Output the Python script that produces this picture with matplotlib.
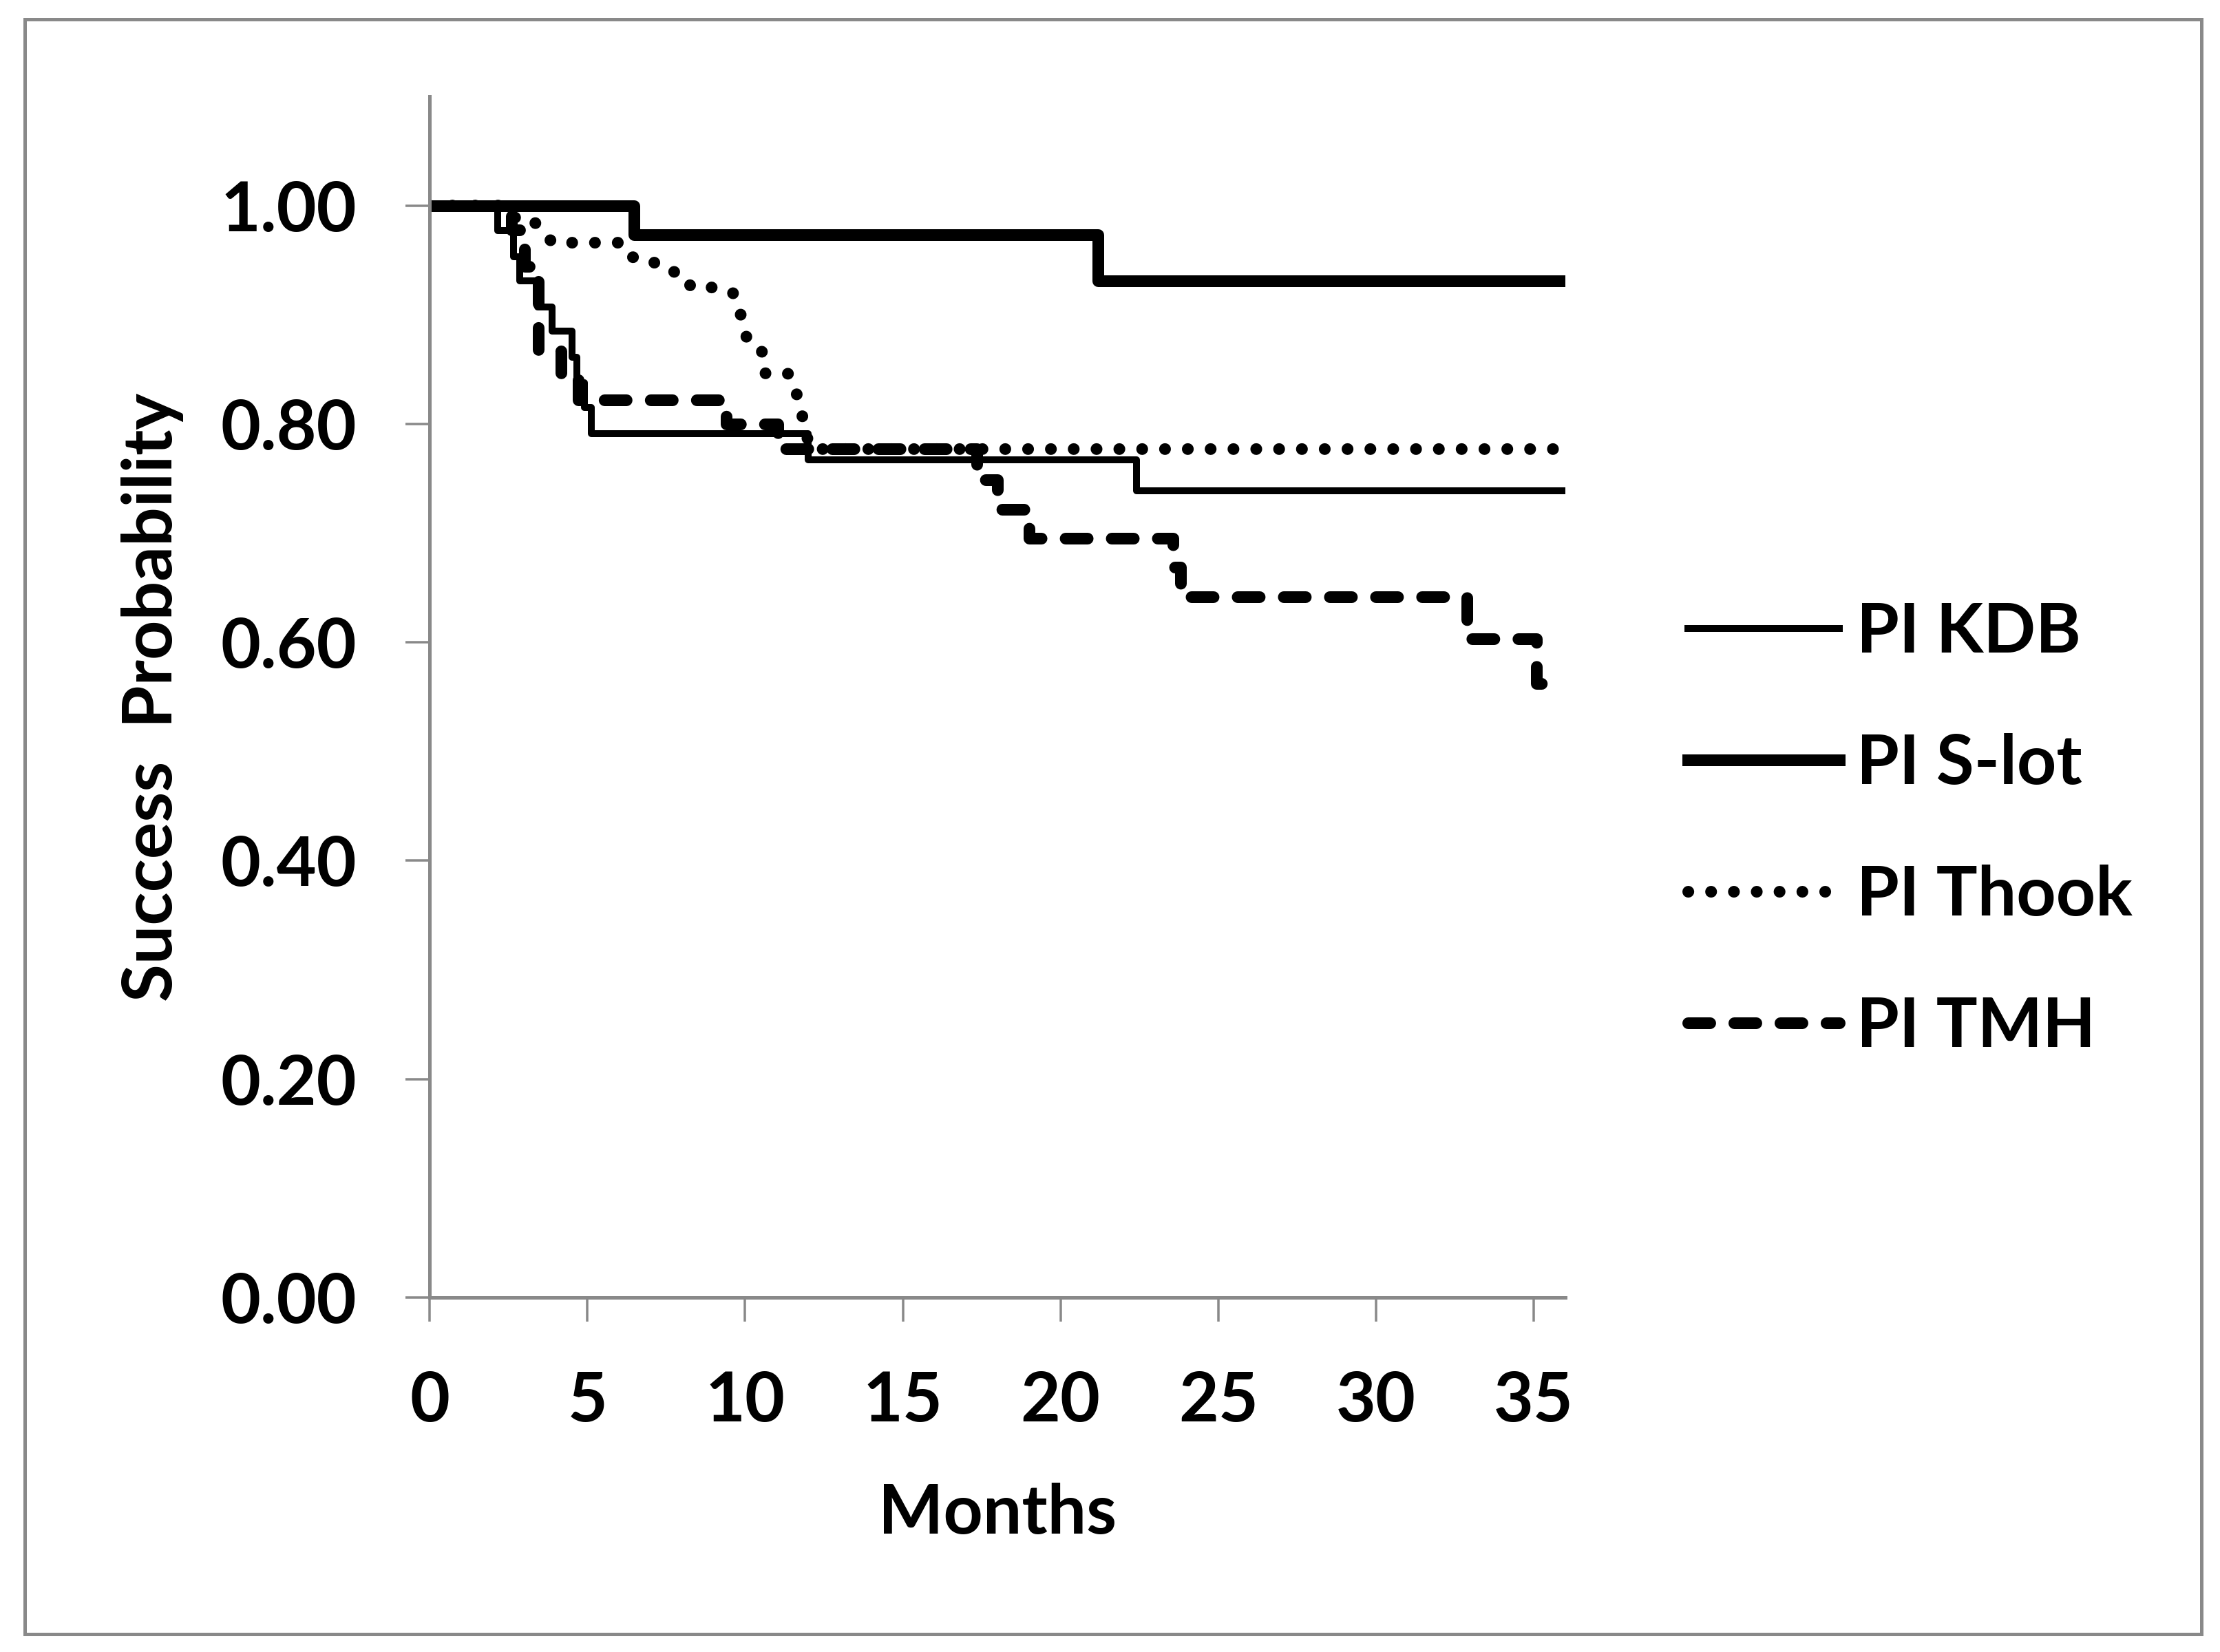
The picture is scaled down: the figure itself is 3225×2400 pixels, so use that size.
import matplotlib
matplotlib.use("Agg")
import matplotlib.pyplot as plt
from matplotlib.patches import Rectangle
from matplotlib.ticker import FormatStrFormatter

# ---- data ----
kdb_t = [0, 2.15, 2.66, 2.85, 3.42, 3.89, 4.51, 4.66, 4.90, 5.13, 12.0, 22.4, 36]
kdb_s = [1.0, 0.977, 0.953, 0.931, 0.907, 0.885, 0.861, 0.838, 0.815, 0.791, 0.767, 0.739, 0.739]

slot_t = [0, 6.49, 21.18, 36]
slot_s = [1.0, 0.973, 0.931, 0.931]

thook_t = [0, 2.2, 2.5, 3.2, 3.9, 6.05, 6.35, 7.0, 7.38, 8.03, 8.3, 9.0, 9.6, 9.83,
           9.94, 10.13, 10.6, 10.65, 11.38, 11.59, 11.79, 11.85, 12.1, 36]
thook_s = [1.0, 1.0, 0.989, 0.989, 0.966, 0.966, 0.953, 0.951, 0.941, 0.938, 0.925, 0.925,
           0.921, 0.905, 0.888, 0.873, 0.865, 0.846, 0.846, 0.831, 0.815, 0.797, 0.777, 0.777]

tmh_t = [0, 2.6, 3.0, 3.44, 4.17, 4.72, 9.41, 11.05, 17.35, 18.0, 19.0, 23.57, 23.8,
         32.88, 35.09, 36]
tmh_s = [1.0, 0.978, 0.944, 0.867, 0.844, 0.822, 0.800, 0.777, 0.749, 0.722, 0.695,
         0.669, 0.642, 0.603, 0.562, 0.562]

labels = ["PI KDB", "PI S-lot", "PI Thook", "PI TMH"]
x_ticks = [0, 5, 10, 15, 20, 25, 30, 35]
y_ticks = [0.0, 0.2, 0.4, 0.6, 0.8, 1.0]

# ---- figure ----
W, H, DPI = 3225, 2400, 300
plt.rcParams['font.family'] = ['Lato', 'DejaVu Sans']
plt.rcParams['font.weight'] = 'bold'
FS = 24
GRAY = '#898989'

fig = plt.figure(figsize=(W / DPI, H / DPI), dpi=DPI)
ax = fig.add_axes([624 / W, 1 - 1885 / H, (2274 - 624) / W, (1885 - 140) / H])

px = 72.0 / DPI  # points per pixel
lw_thin = 10 * px
lw_thick = 17 * px

ax.plot(kdb_t, kdb_s, drawstyle='steps-post', color='black', lw=lw_thin,
        solid_joinstyle='round', label=labels[0])
ax.plot(slot_t, slot_s, drawstyle='steps-post', color='black', lw=lw_thick,
        solid_joinstyle='round', label=labels[1])
ax.plot(thook_t, thook_s, color='black', lw=lw_thick, dashes=(0.01, 1.94),
        dash_capstyle='round', label=labels[2])
ax.plot(tmh_t, tmh_s, drawstyle='steps-post', color='black', lw=lw_thick,
        dashes=(1.88, 2.06), dash_capstyle='round', dash_joinstyle='round',
        label=labels[3])

ax.set_xlim(0, 36)
ax.set_ylim(0, 1.1)
ax.set_xticks(x_ticks)
ax.set_yticks(y_ticks)
ax.yaxis.set_major_formatter(FormatStrFormatter('%.2f'))

for s in ['top', 'right']:
    ax.spines[s].set_visible(False)
for s in ['left', 'bottom']:
    ax.spines[s].set_color(GRAY)
    ax.spines[s].set_linewidth(5 * px)

ax.tick_params(axis='both', direction='out', length=35 * px, width=3.5 * px,
               color=GRAY, labelsize=FS, labelcolor='black', pad=17)
for lab in ax.get_xticklabels() + ax.get_yticklabels():
    lab.set_fontweight('bold')

ax.set_xlabel('Months', fontsize=FS, fontweight='bold')
ax.set_ylabel('Success  Probability', fontsize=FS, fontweight='bold')
ax.xaxis.set_label_coords(0.5, -0.18)
ax.yaxis.set_label_coords(-0.244, 0.5)
ax.xaxis.label.set_va('center')
ax.yaxis.label.set_va('center')

leg = ax.legend(loc='center left', bbox_to_anchor=(2452 / W, 1 - 1206 / H),
                bbox_transform=fig.transFigure, frameon=False, fontsize=FS,
                handlelength=2.2, handletextpad=0.25, labelspacing=1.0,
                borderpad=0, borderaxespad=0)
for t in leg.get_texts():
    t.set_fontweight('bold')

fig.patches.append(Rectangle((35.5 / W, 1 - 2373.5 / H), (3197.5 - 35.5) / W,
                             (2373.5 - 27.5) / H, transform=fig.transFigure,
                             fill=False, ec=GRAY, lw=5 * px))

fig.savefig('out.png', dpi=DPI)
